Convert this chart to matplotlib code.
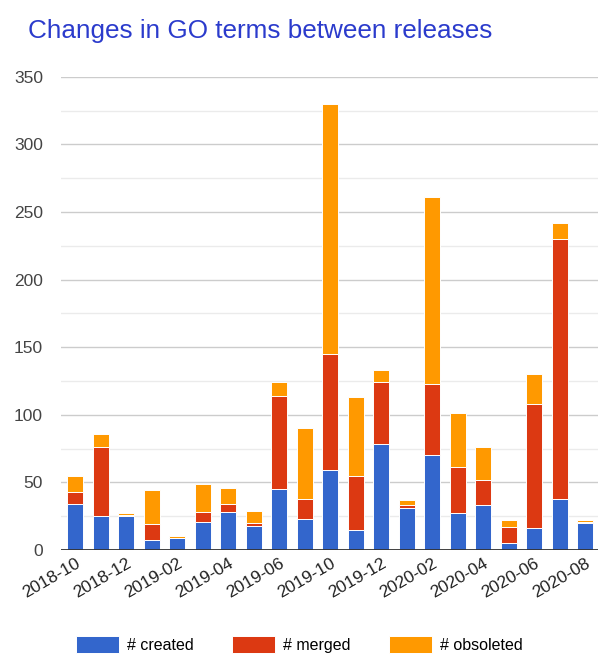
import numpy as np
import matplotlib.pyplot as plt
from matplotlib.ticker import MultipleLocator

plt.rcParams['font.family'] = ['Liberation Sans', 'DejaVu Sans']

# one bar per release, tick label on every second one
tick_labels = ['2018-10', '2018-12', '2019-02', '2019-04', '2019-06', '2019-10',
               '2019-12', '2020-02', '2020-04', '2020-06', '2020-08']
created = [34, 25, 25, 7, 9, 21, 28, 18, 45, 23, 59, 15, 78, 31, 70, 27, 33, 5, 16, 38, 20]
merged = [9, 51, 1, 12, 0, 7, 6, 2, 69, 15, 86, 40, 46, 2, 53, 34, 19, 12, 92, 192, 1]
obsoleted = [12, 10, 1, 25, 1, 21, 12, 9, 10, 52, 185, 58, 9, 4, 138, 40, 24, 5, 22, 12, 1]

BLUE = '#3366cc'
RED = '#dc3912'
ORANGE = '#ff9900'

fig = plt.figure(figsize=(5.99, 6.57), dpi=100)
ax = fig.add_axes([0.102, 0.163, 0.896, 0.72])

x = np.arange(len(created))
created = np.array(created)
merged = np.array(merged)
obsoleted = np.array(obsoleted)
w = 0.63
kw = dict(width=w, edgecolor='white', linewidth=0.7, zorder=3)
ax.bar(x, created, color=BLUE, label='# created', **kw)
ax.bar(x, merged, bottom=created, color=RED, label='# merged', **kw)
ax.bar(x, obsoleted, bottom=created + merged, color=ORANGE, label='# obsoleted', **kw)

ax.set_xlim(-0.55, len(x) - 0.5)
ax.set_ylim(0, 350)
ax.yaxis.set_major_locator(MultipleLocator(50))
ax.yaxis.set_minor_locator(MultipleLocator(25))
ax.grid(axis='y', which='major', color='#cccccc', lw=1, zorder=0)
ax.grid(axis='y', which='minor', color='#ebebeb', lw=1, zorder=0)
ax.axhline(0, color='#333333', lw=1.3, zorder=4)

for s in ax.spines.values():
    s.set_visible(False)
ax.tick_params(axis='y', which='both', length=0, pad=13, labelsize=12.5, labelcolor='#444444')
ax.tick_params(axis='x', length=0, pad=4, labelsize=12.5, labelcolor='#222222')
ax.set_xticks(x[::2])
ax.set_xticklabels(tick_labels, rotation=30, ha='right', rotation_mode='anchor')

fig.text(0.047, 0.953, 'Changes in GO terms between releases', fontsize=18.8,
         color='#2b3bcc', ha='left', va='center')

fig.legend(loc='lower center', bbox_to_anchor=(0.5, -0.016), ncol=3, frameon=False,
           fontsize=11.5, handlelength=2.7, handleheight=1.3, columnspacing=2.4,
           handletextpad=0.5)

fig.savefig('out.png', dpi=100)
